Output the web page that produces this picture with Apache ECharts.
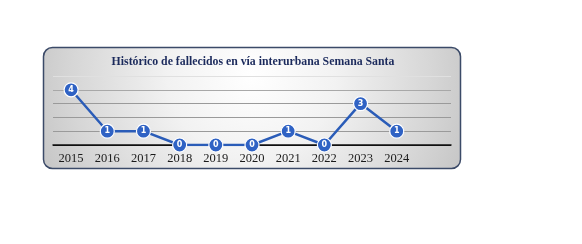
<!DOCTYPE html>
<html><head><meta charset="utf-8">
<script src="https://cdn.jsdelivr.net/npm/echarts@6/dist/echarts.min.js"></script>
<style>html,body{margin:0;padding:0;background:#fff}#c{width:582px;height:244px}</style>
</head><body><div id="c"></div>
<script>
const titleText = 'Histórico de fallecidos en vía interurbana Semana Santa';
const years = ['2015','2016','2017','2018','2019','2020','2021','2022','2023','2024'];
const deaths = [4,1,1,0,0,0,1,0,3,1];
const yTicks = [0,1,2,3,4,5];

const chart = echarts.init(document.getElementById('c'), null, {renderer:'canvas'});
chart.setOption({
  animation:false,
  graphic:[{
    type:'rect', z:-10, silent:true,
    shape:{x:43.5,y:47.5,width:417,height:121,r:9},
    style:{
      fill:new echarts.graphic.RadialGradient(252,75,240,[
        {offset:0,color:'#ffffff'},{offset:0.35,color:'#f2f2f2'},{offset:0.75,color:'#d6d6d6'},{offset:1,color:'#c2c2c2'}],true),
      stroke:'#3b4a68', lineWidth:1.5
    }
  }],
  title:{text:titleText,left:248,top:51,textAlign:'center',
    textStyle:{fontFamily:'Liberation Serif',fontWeight:'bold',fontSize:11.8,color:'#1b2a5c'}},
  grid:{left:53,right:131,top:76,bottom:99,containLabel:false},
  xAxis:{type:'category',data:years.concat(['']),boundaryGap:true,
    axisLine:{show:true,lineStyle:{color:'#111',width:1.5}},
    axisTick:{show:false},
    axisLabel:{fontFamily:'Liberation Serif',fontSize:12.5,color:'#1a1a1a',margin:7}},
  yAxis:{type:'value',min:yTicks[0],max:yTicks[yTicks.length-1],interval:1,
    axisLabel:{show:false},axisLine:{show:false},axisTick:{show:false},
    splitLine:{lineStyle:{color:['#111','#9a9a9a','#9a9a9a','#9a9a9a','#a8a8a8','#e0e0e0'],width:1.2}}},
  series:[{
    type:'line',data:deaths,symbol:'circle',symbolSize:14,
    lineStyle:{color:'#2a5cb8',width:2.5},
    itemStyle:{color:'#2f62c4',borderColor:'#ffffff',borderWidth:1.2},
    label:{show:true,position:'inside',color:'#fff',fontWeight:'bold',fontSize:8,fontFamily:'DejaVu Sans'},
    z:5
  }]
});
</script></body></html>
